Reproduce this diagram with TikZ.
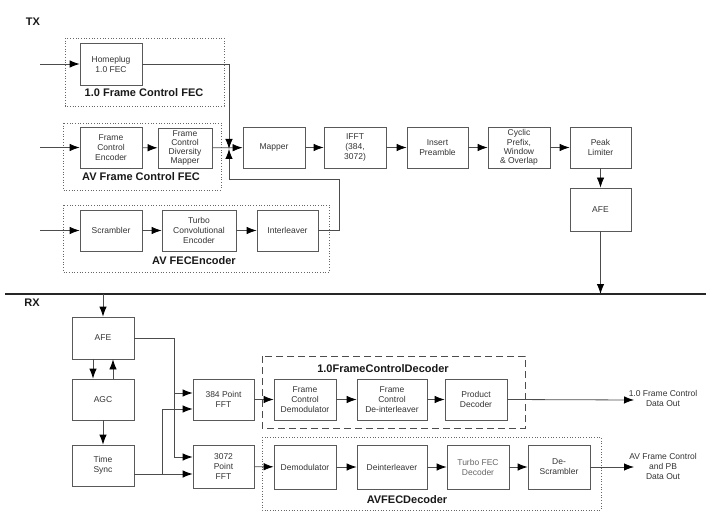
\documentclass[tikz,border=0pt]{standalone}
\usepackage{fontspec}
\setmainfont{Liberation Sans}
\usepackage{tikz}
\usetikzlibrary{arrows.meta}
\newcommand{\blockFont}[0]{\fontsize{8.5}{10}\selectfont}
\newcommand{\groupFont}[0]{\fontsize{11}{13}\selectfont\bfseries}

\begin{document}
\begin{tikzpicture}[x=1pt, y=-1pt, >={Latex[length=10pt,width=7.5pt,color=black]}]
  \tikzset{blk/.style={draw=black!65, line width=0.8pt, text=black!80, align=center,
      minimum width=62pt, minimum height=41pt, inner sep=1pt, font=\blockFont},
    grpdot/.style={draw=black!60, line width=0.7pt, dotted},
    grpdash/.style={draw=black!70, line width=0.7pt, dash pattern=on 7pt off 4pt},
    glabel/.style={font=\groupFont, text=black!90, inner sep=0pt},
    wire/.style={draw=black!70, line width=0.8pt}}
  \useasboundingbox (0,0) rectangle (725,529);

  % TX side
  \node[glabel] (tx) at (33,22) {TX};
  \draw[grpdot] (65,38) rectangle (224,106);
  \draw[grpdot] (63,123) rectangle (221,190);
  \draw[grpdot] (63,205) rectangle (329,272);
  \node[glabel] (hpLabel) at (144,93) {1.0 Frame Control FEC};
  \node[glabel] (avLabel) at (141,177) {AV Frame Control FEC};
  \node[glabel] (encLabel) at (194,261) {AV FECEncoder};

  \node[blk, minimum height=42pt] (homeplug) at (111,64) {Homeplug\\1.0 FEC};
  \node[blk] (fcEnc) at (111,147.5) {Frame\\Control\\Encoder};
  \node[blk, minimum width=54pt, minimum height=40pt, font=\fontsize{8.5}{8.8}\selectfont] (fcDiv) at (185,148) {Frame\\Control\\Diversity\\Mapper};
  \node[blk] (mapper) at (274,147.5) {Mapper};
  \node[blk] (ifft) at (355,147.5) {IFFT\\(384,\\3072)};
  \node[blk, minimum width=61pt] (preamble) at (437.5,147.5) {Insert\\Preamble};
  \node[blk, font=\fontsize{8.5}{9.2}\selectfont] (cyclic) at (519,147.5) {Cyclic\\Prefix,\\Window\\\& Overlap};
  \node[blk, minimum width=61pt] (peak) at (600.5,147.5) {Peak\\Limiter};
  \node[blk, minimum width=61pt, minimum height=43pt] (afeTx) at (600.5,209.5) {AFE};
  \node[blk] (scrambler) at (111,230.5) {Scrambler};
  \node[blk, minimum width=74pt] (turbo) at (199,230.5) {Turbo\\Convolutional\\Encoder};
  \node[blk, minimum width=61pt] (interleaver) at (287.5,230.5) {Interleaver};

  \coordinate (inHp) at (40,64);
  \coordinate (inFc) at (40,147.5);
  \coordinate (inData) at (40,230.5);
  \coordinate (sw) at (229,149);
  \coordinate (loop) at (339,179);
  \coordinate (bus) at (601,294);

  \draw[wire, ->] (inHp) -- (homeplug);
  \draw[wire, ->] (inFc) -- (fcEnc);
  \draw[wire, ->] (inData) -- (scrambler);
  \draw[wire, ->] (fcEnc) -- (fcDiv);
  \draw[wire, ->] (scrambler) -- (turbo);
  \draw[wire, ->] (turbo) -- (interleaver);
  \draw[wire, ->] (homeplug.east) -| (sw);
  \draw[wire, ->] (interleaver.east) -| (loop) -| (sw);
  \draw[wire, ->] (fcDiv) -- (mapper);
  \draw[wire, ->] (mapper) -- (ifft);
  \draw[wire, ->] (ifft) -- (preamble);
  \draw[wire, ->] (preamble) -- (cyclic);
  \draw[wire, ->] (cyclic) -- (peak);
  \draw[wire, ->] (peak) -- (afeTx);
  \draw[wire, ->] (afeTx.south) -- (afeTx.south |- bus);

  % channel
  \coordinate (lineL) at (5,294);
  \coordinate (lineR) at (706,294);
  \draw[draw=black!85, line width=1.6pt] (lineL) -- (lineR);

  % RX side
  \node[glabel] (rx) at (32,303) {RX};
  \draw[grpdash] (262,356) rectangle (525,428);
  \draw[grpdot] (262,437) rectangle (601,510);
  \node[glabel] (fcdLabel) at (383,369) {1.0FrameControlDecoder};
  \node[glabel] (decLabel) at (407,500) {AVFECDecoder};

  \node[blk, minimum height=42pt] (afeRx) at (103,338) {AFE};
  \node[blk] (agc) at (103,399.5) {AGC};
  \node[blk] (sync) at (103,465.5) {Time\\Sync};
  \node[blk, minimum width=61pt] (fft384) at (223.5,399.5) {384 Point\\FFT};
  \node[blk, minimum width=61pt, minimum height=43pt] (fft3072) at (223.5,466.5) {3072\\Point\\FFT};
  \node[blk] (fcDemod) at (305,399.5) {Frame\\Control\\Demodulator};
  \node[blk, minimum width=70pt] (fcDeint) at (392,399.5) {Frame\\Control\\De-interleaver};
  \node[blk] (product) at (476,399.5) {Product\\Decoder};
  \node[blk, minimum height=44pt] (demod) at (305,467) {Demodulator};
  \node[blk, minimum width=70pt, minimum height=44pt] (deint) at (392,467) {Deinterleaver};
  \node[blk, minimum height=44pt, text=black!60] (turboDec) at (478,467) {Turbo FEC\\Decoder};
  \node[blk, minimum height=44pt] (descr) at (559,467) {De-\\Scrambler};

  \node[font=\blockFont, align=center, text=black!80] (out1) at (663,398) {1.0 Frame Control\\Data Out};
  \node[font=\blockFont, align=center, text=black!80] (out2) at (663,466) {AV Frame Control\\and PB\\Data Out};

  \coordinate (rxIn) at (103,294);
  \coordinate (j1) at (174,393);
  \coordinate (j2) at (174,457);
  \coordinate (j3) at (162,409);
  \coordinate (j4) at (162,474);
  \coordinate (end1) at (634,400);
  \coordinate (end2) at (634,467);

  \draw[wire, ->] (rxIn) -- (afeRx);
  \draw[wire, ->] ([xshift=-10pt]afeRx.south) -- ([xshift=-10pt]agc.north);
  \draw[wire, ->] ([xshift=10pt]agc.north) -- ([xshift=10pt]afeRx.south);
  \draw[wire, ->] (agc) -- (sync);
  \draw[wire] (afeRx.east) -| (j2);
  \draw[wire, ->] (j1) -- (j1 -| fft384.west);
  \draw[wire, ->] (j2) -- (j2 -| fft3072.west);
  \draw[wire, ->] (sync.east |- j4) -- (j4 -| fft3072.west);
  \draw[wire, ->] (j4) |- (j3 -| fft384.west);
  \draw[wire, ->] (fft384) -- (fcDemod);
  \draw[wire, ->] (fcDemod) -- (fcDeint);
  \draw[wire, ->] (fcDeint) -- (product);
  \draw[wire, ->] (product.east) -- (end1);
  \draw[wire, ->] (fft3072) -- (demod);
  \draw[wire, ->] (demod) -- (deint);
  \draw[wire, ->] (deint) -- (turboDec);
  \draw[wire, ->] (turboDec) -- (descr);
  \draw[wire, ->] (descr.east) -- (end2);
\end{tikzpicture}
\end{document}
